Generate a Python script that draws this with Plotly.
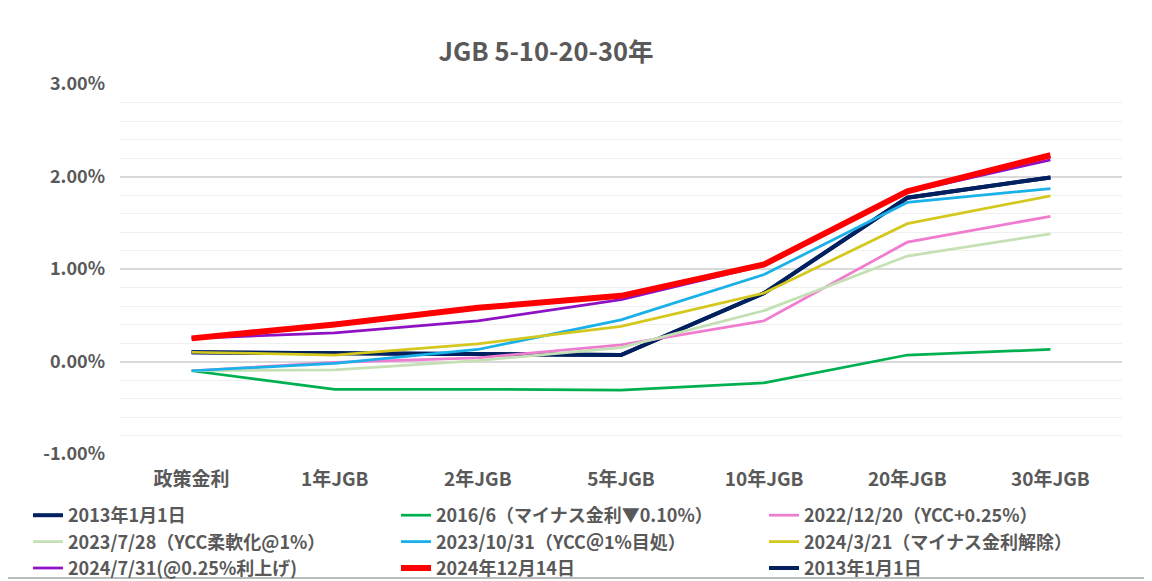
import plotly.graph_objects as go

categories = ["政策金利", "1年JGB", "2年JGB", "5年JGB", "10年JGB", "20年JGB", "30年JGB"]

names = [
    "2013年1月1日",
    "2016/6（マイナス金利▼0.10%）",
    "2022/12/20（YCC+0.25%）",
    "2023/7/28（YCC柔軟化@1%）",
    "2023/10/31（YCC＠1%目処）",
    "2024/3/21（マイナス金利解除）",
    "2024/7/31(@0.25%利上げ)",
    "2024年12月14日",
    "2013年1月1日",
]

y2013 = [0.10, 0.09, 0.07, 0.07, 0.74, 1.77, 1.99]
y2016 = [-0.10, -0.30, -0.30, -0.31, -0.23, 0.07, 0.13]
y2022 = [-0.10, -0.01, 0.04, 0.18, 0.44, 1.29, 1.57]
y2023a = [-0.10, -0.09, 0.01, 0.15, 0.55, 1.14, 1.38]
y2023b = [-0.10, -0.02, 0.13, 0.45, 0.94, 1.72, 1.87]
y2024a = [0.10, 0.07, 0.19, 0.38, 0.74, 1.49, 1.79]
y2024b = [0.25, 0.31, 0.44, 0.67, 1.04, 1.83, 2.18]
y2024c = [0.25, 0.40, 0.58, 0.71, 1.05, 1.84, 2.23]

y_ticks = [-1, 0, 1, 2, 3]
y_tick_labels = ["-1.00%", "0.00%", "1.00%", "2.00%", "3.00%"]

series = [y2013, y2016, y2022, y2023a, y2023b, y2024a, y2024b, y2024c, y2013]
colors = ["#002060", "#00B050", "#F07CD0", "#C5E0B4", "#1AB0E8",
          "#D4C81E", "#8E12C4", "#FF0000", "#002060"]
widths = [4, 2.75, 2.75, 2.75, 2.75, 2.75, 2.75, 6, 4]

# draw the duplicate 2013 line first so yellow sits on top of it,
# but keep it last in the legend
draw_order = [8, 0, 1, 2, 3, 4, 5, 6, 7]
legend_ids = ["legend", "legend2", "legend3"]

fig = go.Figure()
for i in draw_order:
    fig.add_trace(go.Scatter(
        x=categories, y=series[i], name=names[i], mode="lines",
        line=dict(color=colors[i], width=widths[i]),
        legend=legend_ids[i % 3], legendrank=i + 1,
    ))

font_family = "Noto Sans CJK JP"
gray = "#595959"

# page body adds 8px margin, so the figure is sized to the rest of the window
W, H = 1144, 573


def column_legend(left_px):
    # one vertical legend per column, three rows each
    return dict(orientation="v", xref="container", yref="container",
                x=left_px / W, xanchor="left",
                y=1 - 489 / H, yanchor="top",
                traceorder="normal", bgcolor="rgba(0,0,0,0)",
                font=dict(size=18, color=gray, family=font_family, weight="bold"))


fig.update_layout(
    width=W, height=H,
    paper_bgcolor="white", plot_bgcolor="white",
    margin=dict(l=112, r=30, t=76, b=127, autoexpand=False),
    font=dict(family=font_family, color=gray, size=16),
    title=dict(text="JGB 5-10-20-30年", x=538 / W, xanchor="center",
               y=1 - 44 / H, yanchor="middle",
               font=dict(size=25.5, color=gray, family=font_family, weight="bold")),
    showlegend=True,
    legend=column_legend(20),
    legend2=column_legend(388),
    legend3=column_legend(756),
)

fig.update_xaxes(
    type="category", range=[-0.5, 6.5], automargin=False,
    showgrid=False, showline=False, ticks="",
    tickfont=dict(size=19, color=gray, weight="bold"),
    ticklabelstandoff=12,
)
fig.update_yaxes(
    range=[-1, 3], tickmode="array", tickvals=y_ticks, ticktext=y_tick_labels,
    automargin=False,
    showgrid=True, gridcolor="#D9D9D9", gridwidth=2,
    zeroline=False, showline=False, ticks="",
    tickfont=dict(size=18, color=gray, weight="bold"),
    ticklabelstandoff=14,
    minor=dict(dtick=0.2, showgrid=True, gridcolor="#F0F0F0", gridwidth=1),
)

# outer chart border like the Excel chart area (right and bottom visible)
fig.add_shape(type="rect", xref="paper", yref="paper",
              x0=-130 / 1002, x1=1 + 27 / 1002,
              y0=-124 / 370, y1=1 + 90 / 370,
              line=dict(color="#A6A6A6", width=1.5), layer="below")

fig.write_html("out.html")
